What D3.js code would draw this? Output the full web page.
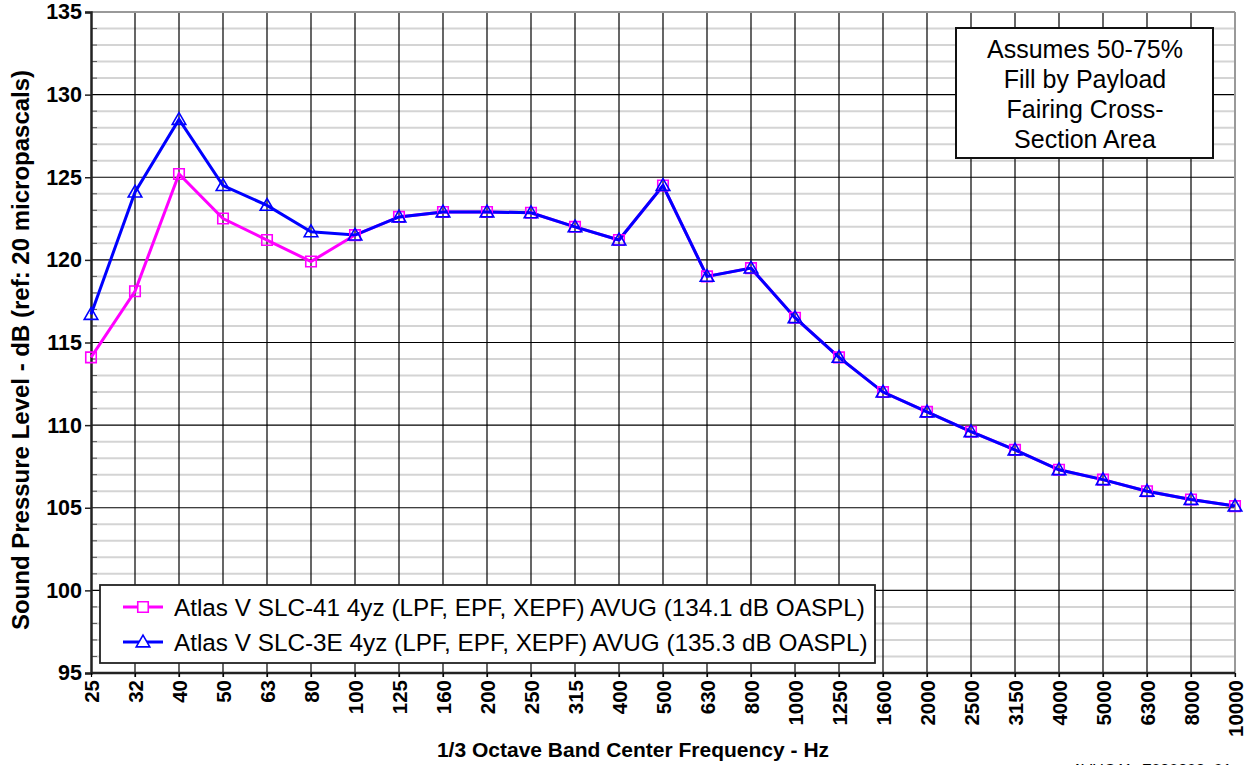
<!DOCTYPE html>
<html><head><meta charset="utf-8">
<script src="https://cdn.jsdelivr.net/npm/d3@7"></script>
<style>html,body{margin:0;padding:0;background:#fff;overflow:hidden}</style>
</head><body>
<svg id="c" width="1251" height="765"></svg>
<script>
const categories = ["25","32","40","50","63","80","100","125","160","200","250","315","400","500","630","800","1000","1250","1600","2000","2500","3150","4000","5000","6300","8000","10000"];
const slc41 = [114.1,118.1,125.2,122.5,121.2,119.9,121.5,122.6,122.9,122.9,122.85,122.0,121.2,124.5,119.0,119.5,116.5,114.1,112.0,110.8,109.6,108.5,107.3,106.7,106.0,105.5,105.1];
const slc3e = [116.7,124.1,128.5,124.5,123.3,121.7,121.5,122.6,122.9,122.9,122.85,122.0,121.2,124.5,119.0,119.5,116.5,114.1,112.0,110.8,109.6,108.5,107.3,106.7,106.0,105.5,105.1];
const seriesNames = ["Atlas V SLC-41 4yz (LPF, EPF, XEPF) AVUG (134.1 dB OASPL)","Atlas V SLC-3E 4yz (LPF, EPF, XEPF) AVUG (135.3 dB OASPL)"];
const yTicks = [95,100,105,110,115,120,125,130,135];
const noteLines = ["Assumes 50-75%","Fill by Payload","Fairing Cross-","Section Area"];
const xTitle = "1/3 Octave Band Center Frequency - Hz";
const yTitle = "Sound Pressure Level - dB (ref: 20 micropascals)";
const footer = "AVUG11_F030203_01_c";

const FONT = "Arial, 'Liberation Sans', sans-serif";
const svg = d3.select("#c");
const L=91, R=1235, T=12, B=673;
const x = d3.scalePoint().domain(categories).range([L,R]).padding(0);
const y = d3.scaleLinear().domain([95,135]).range([B,T]);

// minor gridlines
const minor = d3.range(96,135).filter(v=>v%5!==0);
svg.append("g").selectAll("line").data(minor).join("line")
  .attr("x1",L).attr("x2",R).attr("y1",d=>y(d)).attr("y2",d=>y(d))
  .attr("stroke","#d4d4d4").attr("stroke-width",2);
svg.append("g").selectAll("line").data(minor).join("line")
  .attr("x1",L).attr("x2",L+6).attr("y1",d=>y(d)).attr("y2",d=>y(d))
  .attr("stroke","#555").attr("stroke-width",1);
// major horizontal
svg.append("g").selectAll("line").data(yTicks.slice(1,-1)).join("line")
  .attr("x1",L).attr("x2",R).attr("y1",d=>y(d)).attr("y2",d=>y(d))
  .attr("stroke","#000").attr("stroke-width",1.2);
// vertical grid
svg.append("g").selectAll("line").data(categories.slice(1,-1)).join("line")
  .attr("x1",d=>x(d)).attr("x2",d=>x(d)).attr("y1",T).attr("y2",B+4)
  .attr("stroke","#000").attr("stroke-width",1.2);
// frame
svg.append("line").attr("x1",L).attr("x2",R).attr("y1",T).attr("y2",T).attr("stroke","#999").attr("stroke-width",2);
svg.append("line").attr("x1",R).attr("x2",R).attr("y1",T).attr("y2",B+4).attr("stroke","#999").attr("stroke-width",2);

// axes
const yAxis = svg.append("g").attr("transform",`translate(${L},0)`)
  .call(d3.axisLeft(y).tickValues(yTicks).tickSize(6).tickPadding(3));
yAxis.select(".domain").attr("stroke","#222").attr("stroke-width",2.5);
yAxis.selectAll(".tick line").attr("stroke","#222").attr("stroke-width",1.5);
yAxis.selectAll("text").attr("font-family",FONT).attr("font-weight","bold").attr("font-size",21.5).attr("fill","#000");

const xAxis = svg.append("g").attr("transform",`translate(0,${B})`)
  .call(d3.axisBottom(x).tickSize(4).tickPadding(3));
xAxis.select(".domain").attr("stroke","#222").attr("stroke-width",2.5).attr("d",`M${L},0H${R}`);
xAxis.selectAll(".tick line").attr("stroke","#000").attr("stroke-width",1.2);
xAxis.selectAll("text").attr("font-family",FONT).attr("font-weight","bold").attr("font-size",20.5).attr("fill","#000")
  .attr("transform","rotate(-90)").attr("text-anchor","end").attr("x",-7).attr("y",0).attr("dy","0.35em");

// lines
const line = d3.line().x((d,i)=>x(categories[i])).y(d=>y(d));
svg.append("path").datum(slc41).attr("d",line).attr("fill","none").attr("stroke","#ff00ff").attr("stroke-width",3);
svg.append("path").datum(slc3e).attr("d",line).attr("fill","none").attr("stroke","#0000ff").attr("stroke-width",3);
const sq = d3.symbol().type(d3.symbolSquare).size(110);
const tri = d3.symbol().type(d3.symbolTriangle).size(80);
svg.append("g").selectAll("path").data(slc41).join("path").attr("d",sq)
  .attr("transform",(d,i)=>`translate(${x(categories[i])},${y(d)})`)
  .attr("fill","none").attr("stroke","#ff00ff").attr("stroke-width",1.6);
svg.append("g").selectAll("path").data(slc3e).join("path").attr("d",tri)
  .attr("transform",(d,i)=>`translate(${x(categories[i])},${y(d)+1})`)
  .attr("fill","none").attr("stroke","#0000ff").attr("stroke-width",1.6);

// legend
const lg = svg.append("g");
lg.append("rect").attr("x",100).attr("y",585).attr("width",775).attr("height",78)
  .attr("fill","#fff").attr("stroke","#222").attr("stroke-width",1.8);
const cols = ["#ff00ff","#0000ff"];
[607,642].forEach((cy,i)=>{
  lg.append("line").attr("x1",123).attr("x2",163).attr("y1",cy).attr("y2",cy).attr("stroke",cols[i]).attr("stroke-width",3);
  lg.append("path").attr("d",i===0?sq:tri).attr("transform",`translate(143,${cy+(i?1:0)})`)
    .attr("fill","#fff").attr("stroke",cols[i]).attr("stroke-width",1.6);
  lg.append("text").attr("x",174).attr("y",cy).attr("dy","0.35em").attr("font-family",FONT)
    .attr("font-size",24.3).attr("fill","#000").text(seriesNames[i]);
});

// note box
const nb = svg.append("g");
nb.append("rect").attr("x",956).attr("y",28).attr("width",257).attr("height",130)
  .attr("fill","#fff").attr("stroke","#111").attr("stroke-width",2);
noteLines.forEach((t,i)=>{
  nb.append("text").attr("x",1085).attr("y",58+i*30).attr("text-anchor","middle")
    .attr("font-family",FONT).attr("font-size",25).attr("fill","#000").text(t);
});

// titles
svg.append("text").attr("x",633).attr("y",757).attr("text-anchor","middle")
  .attr("font-family",FONT).attr("font-weight","bold").attr("font-size",21).attr("fill","#000").text(xTitle);
svg.append("text").attr("transform","translate(29,350) rotate(-90)").attr("text-anchor","middle")
  .attr("font-family",FONT).attr("font-weight","bold").attr("font-size",24).attr("fill","#000").text(yTitle);
svg.append("text").attr("x",1072).attr("y",776)
  .attr("font-family",FONT).attr("font-size",16).attr("fill","#000").text(footer);
</script>
</body></html>
